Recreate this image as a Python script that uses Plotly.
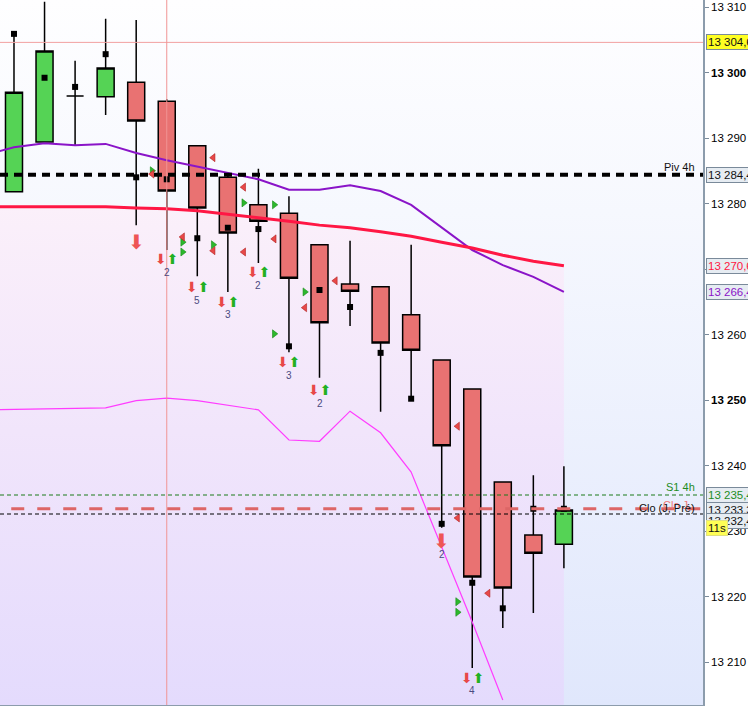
import base64
import plotly.graph_objects as go

# ---------------- data ----------------
IDX = list(range(19))
OPEN = [13281.8, 13289.4, 13296.4, 13296.3, 13298.5, 13295.6, 13288.8, 13284.0, 13279.8, 13278.5,
        13273.7, 13267.7, 13267.3, 13263.0, 13256.1, 13251.7, 13237.5, 13229.4, 13228.0]
HIGH = [13305.9, 13310.8, 13301.8, 13308.2, 13308.0, 13295.9, 13288.9, 13284.2, 13285.3, 13281.1,
        13273.7, 13274.3, 13267.3, 13273.7, 13256.1, 13251.7, 13237.5, 13238.5, 13239.9]
LOW = [13281.8, 13289.4, 13288.9, 13293.5, 13276.7, 13272.9, 13268.9, 13266.5, 13270.9, 13257.3,
       13253.4, 13261.3, 13248.2, 13250.2, 13230.5, 13209.1, 13215.2, 13217.5, 13224.3]
CLOSE = [13297.0, 13303.3, 13296.4, 13300.7, 13292.6, 13281.9, 13279.3, 13275.5, 13277.3, 13268.6,
         13261.8, 13266.6, 13258.7, 13257.6, 13243.0, 13223.0, 13221.3, 13226.6, 13233.2]
SQUARES = [13305.9, 13299.2, 13297.8, 13302.8, 13284.0, 13283.7, 13274.7, 13276.3, 13276.1, 13258.2,
           13266.8, 13264.2, 13257.2, 13250.2, 13231.1, 13222.1, 13218.2, 13233.4, 13233.4]

LINE_X = list(range(-1, 19))
RED_MA = [13279.5, 13279.5, 13279.5, 13279.6, 13279.5, 13279.3, 13279.2, 13278.9, 13278.4, 13277.9,
          13277.3, 13276.7, 13276.3, 13275.7, 13275.0, 13274.1, 13273.2, 13272.1, 13271.2, 13270.5]
PURPLE_MA = [13287.3, 13288.6, 13289.2, 13288.9, 13289.1, 13287.7, 13286.6, 13285.6, 13284.7, 13283.7,
             13282.1, 13282.1, 13282.8, 13281.9, 13279.8, 13276.3, 13272.9, 13270.6, 13268.8, 13266.5]
MAG_X = list(range(-1, 17))
MAGENTA = [13248.5, 13248.6, 13248.7, 13248.7, 13248.8, 13249.9, 13250.3, 13249.9, 13249.2, 13248.5,
           13243.9, 13243.7, 13248.3, 13245.0, 13239.0, 13227.7, 13216.1, 13204.2]

RED_TRI_IDX = [4, 5, 6, 6, 7, 7, 8, 9, 10, 14, 14, 15]
RED_TRI_Y = [13284.5, 13274.9, 13287.0, 13272.8, 13282.5, 13272.6, 13274.6, 13264.1, 13268.2,
             13246.0, 13232.0, 13220.5]
GREEN_TRI_IDX = [4, 5, 5, 6, 7, 8, 8, 9, 14, 14]
GREEN_TRI_Y = [13285.0, 13274.1, 13272.6, 13273.7, 13280.1, 13279.8, 13260.1, 13266.5, 13219.2, 13217.6]

PAIR_IDX = [5, 6, 7, 8, 9, 10, 15]
PAIR_Y = [13271.5, 13267.2, 13265.0, 13269.5, 13255.8, 13251.5, 13207.6]
PAIR_N = ["2", "5", "3", "2", "3", "2", "4"]
BIG_IDX = [4, 14]
BIG_Y = [13274.1, 13228.5]
BIG_N = ["", "2"]

CURSOR_X = 5
CURSOR_Y = 13304.6
PIV_4H = 13284.4
S1_4H = 13235.5
CLO_J = 13233.4
CLO_J_PRE = 13232.6

TICK_VALS = [13210, 13220, 13230, 13240, 13250, 13260, 13270, 13280, 13290, 13300, 13310]
TICK_TEXT = ["13 210", "13 220", "13 230", "13 240", "<b>13 250</b>", "13 260", "13 270",
             "13 280", "13 290", "<b>13 300</b>", "13 310"]

PRICE_BOXES = [
    (CURSOR_Y, "13 304,6", "#111111", "#ffff22", "#7a8a9a"),
    (PIV_4H, "13 284,4", "#111111", "#e6ecf2", "#7a8a9a"),
    (RED_MA[-1], "13 270,6", "#ff1744", "#e6ecf2", "#7a8a9a"),
    (PURPLE_MA[-1], "13 266,4", "#8a14c8", "#e6ecf2", "#7a8a9a"),
    (S1_4H, "13 235,4", "#1e8c1e", "#e6ecf2", "#7a8a9a"),
    (13233.2, "13 233,3", "#111111", "#e6ecf2", "#7a8a9a"),
    (13231.5, "13 232,4", "#111111", "#e6ecf2", "#7a8a9a"),
    (13230.5, "11s", "#111111", "#ffff55", "#e0e080"),
]

Y_RANGE = [13203.44, 13311.07]
X_RANGE = [-0.458, 22.553]
FONT = "Liberation Sans"

fig = go.Figure()

# background gradient
svg = ('<svg xmlns="http://www.w3.org/2000/svg" width="10" height="100" viewBox="0 0 10 100" '
       'preserveAspectRatio="none"><defs><linearGradient id="g" x1="0" y1="0" x2="0" y2="1">'
       '<stop offset="0" stop-color="#fefeff"/><stop offset="0.3" stop-color="#f6f8fe"/>'
       '<stop offset="1" stop-color="#e0e7fc"/></linearGradient></defs>'
       '<rect width="10" height="100" fill="url(#g)"/></svg>')
src = "data:image/svg+xml;base64," + base64.b64encode(svg.encode()).decode()
fig.add_layout_image(source=src, xref="paper", yref="paper", x=0, y=1, sizex=1, sizey=1,
                     sizing="stretch", layer="below", xanchor="left", yanchor="top")

# lavender fill below red MA (on the base y axis, drawn beneath everything on y2)
fig.add_trace(go.Scatter(x=LINE_X, y=[Y_RANGE[0]] * len(LINE_X), mode="lines", yaxis="y",
                         line=dict(width=0), hoverinfo="skip", showlegend=False))
fig.add_trace(go.Scatter(x=LINE_X, y=RED_MA, mode="lines", line=dict(width=0), fill="tonexty",
                         yaxis="y",
                         fillgradient=dict(type="vertical",
                                           colorscale=[[0, "#e4dbfd"], [0.55, "#f1e5fb"], [1, "#fbf0fa"]],
                                           start=Y_RANGE[0], stop=max(RED_MA)),
                         hoverinfo="skip", showlegend=False))

# candles
fig.add_trace(go.Candlestick(
    x=IDX, open=OPEN, high=HIGH, low=LOW, close=CLOSE, yaxis="y2",
    increasing=dict(fillcolor="#55d355", line=dict(color="black", width=1.5)),
    decreasing=dict(fillcolor="#e97272", line=dict(color="black", width=1.5)),
    whiskerwidth=0, hoverinfo="skip", showlegend=False))

# moving averages
fig.add_trace(go.Scatter(x=MAG_X, y=MAGENTA, mode="lines", line=dict(color="#ff3cff", width=1.2),
                         yaxis="y2", hoverinfo="skip", showlegend=False))
fig.add_trace(go.Scatter(x=LINE_X, y=PURPLE_MA, mode="lines", line=dict(color="#8a14c8", width=2),
                         yaxis="y2", hoverinfo="skip", showlegend=False))
fig.add_trace(go.Scatter(x=LINE_X, y=RED_MA, mode="lines", line=dict(color="#ff1744", width=3),
                         yaxis="y2", hoverinfo="skip", showlegend=False))

# square markers
fig.add_trace(go.Scatter(x=IDX, y=SQUARES, mode="markers", yaxis="y2",
                         marker=dict(symbol="square", size=6, color="black"),
                         hoverinfo="skip", showlegend=False))

# triangles (between candles)
fig.add_trace(go.Scatter(x=[i + 0.52 for i in GREEN_TRI_IDX], y=GREEN_TRI_Y, mode="markers", yaxis="y2",
                         marker=dict(symbol="triangle-right", size=7, color="#2cb82c",
                                     line=dict(color="#178a17", width=0.6)),
                         hoverinfo="skip", showlegend=False))
fig.add_trace(go.Scatter(x=[i + 0.52 for i in RED_TRI_IDX], y=RED_TRI_Y, mode="markers", yaxis="y2",
                         marker=dict(symbol="triangle-left", size=7, color="#e84848",
                                     line=dict(color="#b02020", width=0.6)),
                         hoverinfo="skip", showlegend=False))

# reference lines
shapes = [
    dict(type="line", xref="paper", x0=0, x1=1, yref="y", y0=CURSOR_Y, y1=CURSOR_Y,
         line=dict(color="#f2a0a0", width=1), layer="above"),
    dict(type="line", xref="x", x0=CURSOR_X, x1=CURSOR_X, yref="paper", y0=0, y1=1,
         line=dict(color="#f09595", width=1), layer="above"),
    dict(type="line", xref="paper", x0=0, x1=1, yref="y", y0=PIV_4H, y1=PIV_4H,
         line=dict(color="black", width=4, dash="8px,6px"), layer="above"),
    dict(type="line", xref="paper", x0=0, x1=1, yref="y", y0=S1_4H, y1=S1_4H,
         line=dict(color="#1a7a1a", width=1.2, dash="4px,3px"), layer="above"),
    dict(type="line", xref="paper", x0=0.016, x1=1, yref="y", y0=CLO_J, y1=CLO_J,
         line=dict(color="#dd6666", width=3, dash="13px,13px"), layer="above"),
    dict(type="line", xref="paper", x0=0, x1=1, yref="y", y0=CLO_J_PRE, y1=CLO_J_PRE,
         line=dict(color="black", width=1.2, dash="4px,3px"), layer="above"),
]

ann = []
# line labels
ann.append(dict(xref="paper", x=1, xshift=-6, xanchor="right", y=PIV_4H, yanchor="bottom",
                text="Piv 4h", showarrow=False, font=dict(family=FONT, size=11, color="#111111")))
ann.append(dict(xref="paper", x=1, xshift=-6, xanchor="right", y=S1_4H, yanchor="bottom",
                text="S1 4h", showarrow=False, font=dict(family=FONT, size=11, color="#1e8c1e")))
ann.append(dict(xref="paper", x=1, xshift=-13, xanchor="right", y=CLO_J, yanchor="bottom", yshift=-4,
                text="Clo J", showarrow=False, font=dict(family=FONT, size=11, color="#ee7777")))
ann.append(dict(xref="paper", x=1, xshift=-6, xanchor="right", y=CLO_J_PRE, yanchor="bottom",
                yshift=-2, text="Clo (J, Pré)", showarrow=False,
                font=dict(family=FONT, size=11, color="#111111")))

# arrow signals
for i, yv, n in zip(PAIR_IDX, PAIR_Y, PAIR_N):
    ann.append(dict(x=i, y=yv, yref="y2",
                    text="<span style='color:#e84848'>⬇</span><span style='color:#22b022'>⬆</span>",
                    showarrow=False, font=dict(family="DejaVu Sans", size=14)))
    ann.append(dict(x=i, y=yv, yref="y2", yshift=-13, text=n, showarrow=False,
                    font=dict(family=FONT, size=10, color="#4a4a80")))
for i, yv, n in zip(BIG_IDX, BIG_Y, BIG_N):
    ann.append(dict(x=i, y=yv, yref="y2", text="⬇", showarrow=False,
                    font=dict(family="DejaVu Sans", size=20, color="#ee5555")))
    if n:
        ann.append(dict(x=i, y=yv, yref="y2", yshift=-14, text=n, showarrow=False,
                        font=dict(family=FONT, size=10, color="#4a4a80")))

# right price boxes
for yv, txt, col, bg, bd in PRICE_BOXES:
    ann.append(dict(xref="paper", x=1, xshift=3, xanchor="left", y=yv, yanchor="middle",
                    text=txt, showarrow=False, bgcolor=bg, bordercolor=bd, borderwidth=1,
                    borderpad=1, font=dict(family=FONT, size=11.5, color=col)))

fig.update_layout(
    width=748, height=706,
    margin=dict(l=0, r=45, t=0, b=1),
    paper_bgcolor="white", plot_bgcolor="rgba(0,0,0,0)",
    boxgap=0.443, boxgroupgap=0,
    showlegend=False,
    shapes=shapes, annotations=ann,
    font=dict(family=FONT, size=11, color="black"),
    xaxis=dict(range=X_RANGE, showgrid=False, zeroline=False, showticklabels=False, ticks="",
               showline=True, linecolor="#8c9cac", linewidth=2, rangeslider=dict(visible=False),
               fixedrange=True),
    yaxis=dict(range=Y_RANGE, side="right", showgrid=False, zeroline=False, showticklabels=False,
               ticks="", showline=False, fixedrange=True),
    yaxis2=dict(range=Y_RANGE, overlaying="y", side="right", showgrid=False, zeroline=False,
                ticks="outside", ticklen=4, tickcolor="#7a8a9a", showline=True, linecolor="#8c9cac",
                linewidth=1.5, tickvals=TICK_VALS, ticktext=TICK_TEXT,
                tickfont=dict(family=FONT, size=11.5, color="black"), fixedrange=True),
)

fig.write_html("out.html", config={"displayModeBar": False},
               post_script="document.body.style.margin='0px';")
